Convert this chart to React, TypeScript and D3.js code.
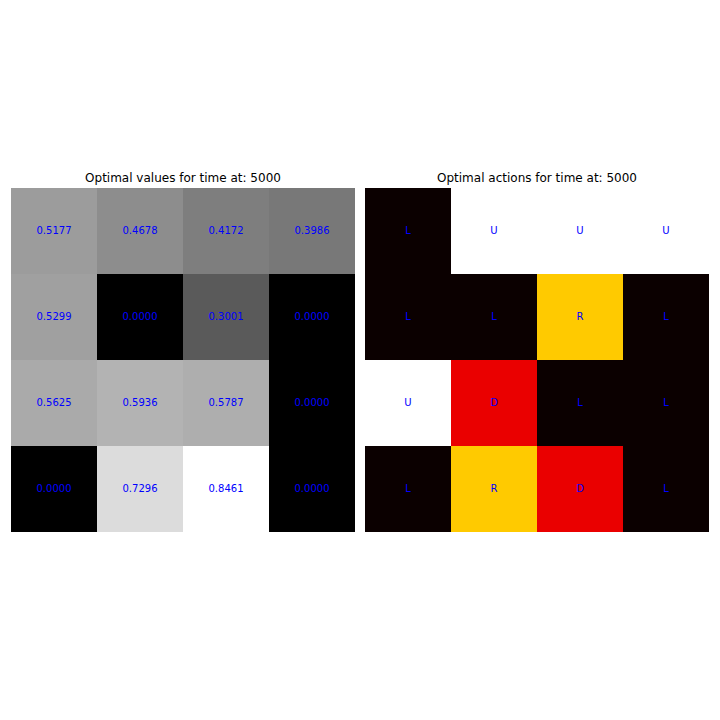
import React from "react";
import * as d3 from "d3";

const rows = [0, 1, 2, 3];
const cols = [0, 1, 2, 3];
const values: number[][] = [
  [0.5177, 0.4678, 0.4172, 0.3986],
  [0.5299, 0.0, 0.3001, 0.0],
  [0.5625, 0.5936, 0.5787, 0.0],
  [0.0, 0.7296, 0.8461, 0.0],
];
const actions: string[][] = [
  ["L", "U", "U", "U"],
  ["L", "L", "R", "L"],
  ["U", "D", "L", "L"],
  ["L", "R", "D", "L"],
];
const actionCodes = ["L", "D", "R", "U"];
const titleValues = "Optimal values for time at: 5000";
const titleActions = "Optimal actions for time at: 5000";

const W = 720;
const H = 720;
const size = 344;
const top = 188;
const leftA = 11;
const leftB = 365;

const FONT = "DejaVu Sans, sans-serif";

export default function App() {
  const x = d3.scaleBand<number>().domain(cols).range([0, size]);
  const y = d3.scaleBand<number>().domain(rows).range([0, size]);
  const vmax = d3.max(values.flat()) as number;
  const vmin = d3.min(values.flat()) as number;
  const gray = d3
    .scaleLinear<string>()
    .domain([vmin, vmax])
    .range(["#000000", "#ffffff"])
    .interpolate(d3.interpolateRgb);
  const codeScale = d3.scaleLinear().domain([0, actionCodes.length - 1]).range([0, 1]);
  const hot = d3
    .scaleLinear<string>()
    .domain([0, 0.365079, 0.746032, 1])
    .range(["#0b0000", "#ff0000", "#ffff00", "#ffffff"])
    .interpolate(d3.interpolateRgb);

  const textY = (r: number) => (y(r) as number) + y.bandwidth() / 2 + 2.8;

  return (
    <svg
      width={W}
      height={H}
      style={{ position: "absolute", left: 0, top: 0, display: "block", background: "#fff" }}
    >
      <g transform={`translate(${leftA},${top})`}>
        {rows.map((r) =>
          cols.map((c) => (
            <rect
              key={`v${r}-${c}`}
              x={x(c)}
              y={y(r)}
              width={x.bandwidth()}
              height={y.bandwidth()}
              fill={gray(values[r][c])}
              shapeRendering="crispEdges"
            />
          ))
        )}
        {rows.map((r) =>
          cols.map((c) => (
            <text
              key={`vt${r}-${c}`}
              x={(x(c) as number) + x.bandwidth() / 2}
              y={textY(r)}
              textAnchor="middle"
              fontFamily={FONT}
              fontSize={10}
              fill="#0000ff"
            >
              {values[r][c].toFixed(4)}
            </text>
          ))
        )}
        <text
          x={size / 2}
          y={-6}
          textAnchor="middle"
          fontFamily={FONT}
          fontSize={12}
          fill="#000"
        >
          {titleValues}
        </text>
      </g>
      <g transform={`translate(${leftB},${top})`}>
        {rows.map((r) =>
          cols.map((c) => (
            <rect
              key={`a${r}-${c}`}
              x={x(c)}
              y={y(r)}
              width={x.bandwidth()}
              height={y.bandwidth()}
              fill={hot(codeScale(actionCodes.indexOf(actions[r][c])))}
              shapeRendering="crispEdges"
            />
          ))
        )}
        {rows.map((r) =>
          cols.map((c) => (
            <text
              key={`at${r}-${c}`}
              x={(x(c) as number) + x.bandwidth() / 2}
              y={textY(r)}
              textAnchor="middle"
              fontFamily={FONT}
              fontSize={10}
              fill="#0000ff"
            >
              {actions[r][c]}
            </text>
          ))
        )}
        <text
          x={size / 2}
          y={-6}
          textAnchor="middle"
          fontFamily={FONT}
          fontSize={12}
          fill="#000"
        >
          {titleActions}
        </text>
      </g>
    </svg>
  );
}
